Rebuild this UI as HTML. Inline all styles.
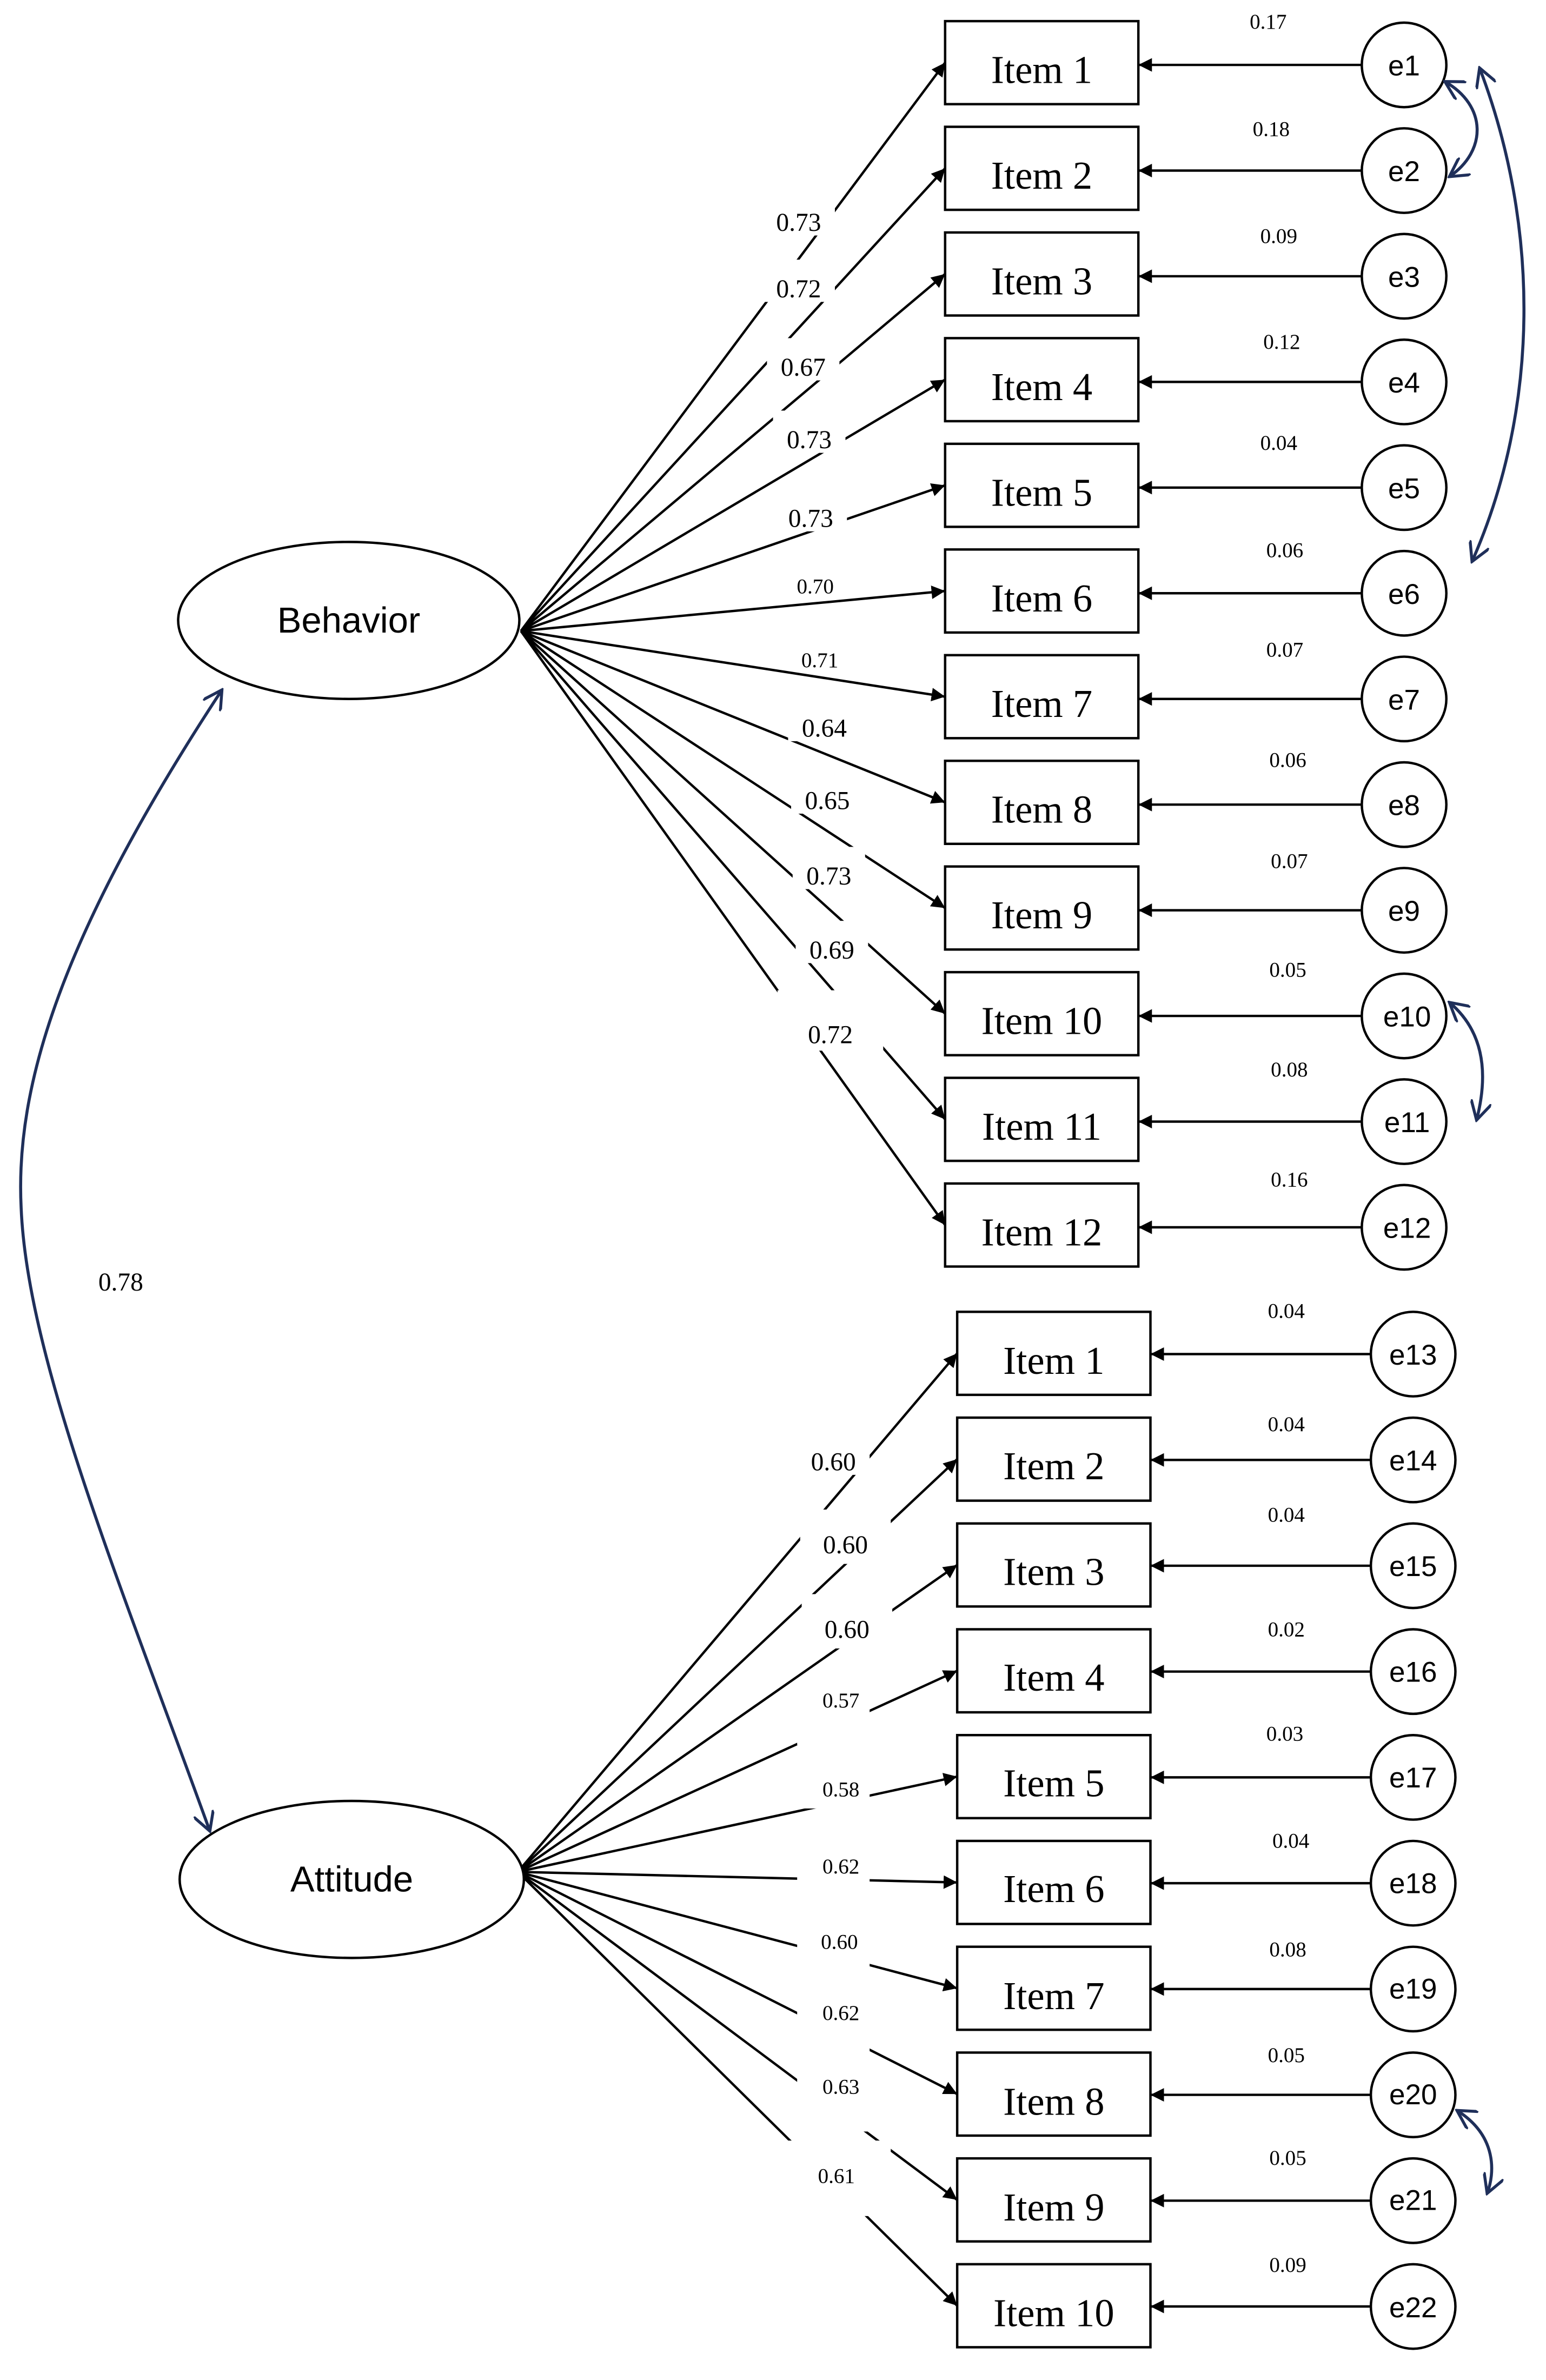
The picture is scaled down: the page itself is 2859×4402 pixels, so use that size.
<!DOCTYPE html>
<html><head><meta charset="utf-8"><style>
html,body{margin:0;padding:0;background:#fff;}
svg{display:block;}
.it{font-family:"Liberation Serif",serif;font-size:26px;}
.e{font-family:"Liberation Sans",sans-serif;font-size:19px;}
.ld{font-family:"Liberation Serif",serif;font-size:17px;}
.sm{font-family:"Liberation Serif",serif;font-size:14px;}
.lv{font-family:"Liberation Sans","DejaVu Sans",sans-serif;font-size:24px;}
</style></head><body>
<svg width="2859" height="4402" viewBox="0 0 1024 1576.6" preserveAspectRatio="none" xmlns="http://www.w3.org/2000/svg">
<defs>
<marker id="a" viewBox="0 0 10 10" refX="10" refY="5" markerWidth="9" markerHeight="9" markerUnits="userSpaceOnUse" orient="auto"><path d="M0,0 L10,5 L0,10 z" fill="#000"/></marker>
<marker id="o" viewBox="0 0 10 10" refX="9" refY="5" markerWidth="14" markerHeight="14" markerUnits="userSpaceOnUse" orient="auto-start-reverse"><path d="M0,0 L9,5 L0,10" fill="none" stroke="#1f2f5a" stroke-width="1.4"/></marker>
</defs>
<rect width="1024" height="1577" fill="#fff"/>
<g stroke="#000" stroke-width="1.6" fill="none">
<!-- behavior loadings -->
<line x1="345" y1="418" x2="626" y2="41.5" marker-end="url(#a)"/>
<line x1="345" y1="418" x2="626" y2="111.5" marker-end="url(#a)"/>
<line x1="345" y1="418" x2="626" y2="181.5" marker-end="url(#a)"/>
<line x1="345" y1="418" x2="626" y2="251.5" marker-end="url(#a)"/>
<line x1="345" y1="418" x2="626" y2="321.5" marker-end="url(#a)"/>
<line x1="345" y1="418" x2="626" y2="391.5" marker-end="url(#a)"/>
<line x1="345" y1="418" x2="626" y2="461.5" marker-end="url(#a)"/>
<line x1="345" y1="418" x2="626" y2="531.5" marker-end="url(#a)"/>
<line x1="345" y1="418" x2="626" y2="601.5" marker-end="url(#a)"/>
<line x1="345" y1="418" x2="626" y2="671.5" marker-end="url(#a)"/>
<line x1="345" y1="418" x2="626" y2="741.5" marker-end="url(#a)"/>
<line x1="345" y1="418" x2="626" y2="811.5" marker-end="url(#a)"/>
<!-- attitude loadings -->
<line x1="343" y1="1240" x2="634" y2="896.5" marker-end="url(#a)"/>
<line x1="343" y1="1240" x2="634" y2="966.6" marker-end="url(#a)"/>
<line x1="343" y1="1240" x2="634" y2="1036.7" marker-end="url(#a)"/>
<line x1="343" y1="1240" x2="634" y2="1106.8" marker-end="url(#a)"/>
<line x1="343" y1="1240" x2="634" y2="1176.9" marker-end="url(#a)"/>
<line x1="343" y1="1240" x2="634" y2="1247" marker-end="url(#a)"/>
<line x1="343" y1="1240" x2="634" y2="1317.1" marker-end="url(#a)"/>
<line x1="343" y1="1240" x2="634" y2="1387.2" marker-end="url(#a)"/>
<line x1="343" y1="1240" x2="634" y2="1457.3" marker-end="url(#a)"/>
<line x1="343" y1="1240" x2="634" y2="1527.4" marker-end="url(#a)"/>
</g>
<!-- label backgrounds + labels -->
<g fill="#fff">
<rect x="505" y="128" width="48" height="28"/><rect x="505" y="172" width="48" height="28"/><rect x="508" y="224" width="48" height="28"/><rect x="512" y="272" width="48" height="28"/><rect x="513" y="324" width="48" height="28"/><rect x="520" y="376" width="40" height="18"/><rect x="523" y="425" width="40" height="18"/><rect x="522" y="463" width="48" height="28"/><rect x="524" y="511" width="48" height="28"/><rect x="525" y="561" width="48" height="28"/><rect x="527" y="610" width="48" height="28"/><rect x="515" y="656" width="70" height="40"/>
<rect x="528" y="949" width="48" height="28"/><rect x="530" y="1000" width="60" height="36"/><rect x="531" y="1056" width="60" height="36"/><rect x="528" y="1112" width="48" height="44"/><rect x="528" y="1170" width="48" height="28"/><rect x="528" y="1222" width="48" height="26"/><rect x="528" y="1272" width="48" height="34"/><rect x="528" y="1320" width="48" height="40"/><rect x="528" y="1368" width="48" height="44"/><rect x="520" y="1418" width="70" height="50"/>
</g>
<g text-anchor="middle">
<text class="ld" x="529" y="153">0.73</text><text class="ld" x="529" y="197">0.72</text><text class="ld" x="532" y="249">0.67</text><text class="ld" x="536" y="297">0.73</text><text class="ld" x="537" y="349">0.73</text><text class="sm" x="540" y="393">0.70</text><text class="sm" x="543" y="442">0.71</text><text class="ld" x="546" y="488">0.64</text><text class="ld" x="548" y="536">0.65</text><text class="ld" x="549" y="586">0.73</text><text class="ld" x="551" y="635">0.69</text><text class="ld" x="550" y="691">0.72</text>
<text class="ld" x="552" y="974">0.60</text><text class="ld" x="560" y="1029">0.60</text><text class="ld" x="561" y="1085">0.60</text><text class="sm" x="557" y="1131">0.57</text><text class="sm" x="557" y="1190">0.58</text><text class="sm" x="557" y="1241">0.62</text><text class="sm" x="556" y="1291">0.60</text><text class="sm" x="557" y="1338">0.62</text><text class="sm" x="557" y="1387">0.63</text><text class="sm" x="554" y="1446">0.61</text>
<text class="ld" x="80" y="855">0.78</text>
</g>
<!-- latent -->
<ellipse cx="231" cy="411" rx="113" ry="52" fill="#fff" stroke="#000" stroke-width="1.6"/>
<ellipse cx="233" cy="1245" rx="114" ry="52" fill="#fff" stroke="#000" stroke-width="1.6"/>
<text class="lv" x="231" y="419" text-anchor="middle">Behavior</text>
<text class="lv" x="233" y="1253" text-anchor="middle">Attitude</text>
<!-- behavior boxes, errors -->
<g id="bg">
</g>
<g stroke="#000" stroke-width="1.6" fill="#fff">
<rect x="626" y="14" width="128" height="55"/><rect x="626" y="84" width="128" height="55"/><rect x="626" y="154" width="128" height="55"/><rect x="626" y="224" width="128" height="55"/><rect x="626" y="294" width="128" height="55"/><rect x="626" y="364" width="128" height="55"/><rect x="626" y="434" width="128" height="55"/><rect x="626" y="504" width="128" height="55"/><rect x="626" y="574" width="128" height="55"/><rect x="626" y="644" width="128" height="55"/><rect x="626" y="714" width="128" height="55"/><rect x="626" y="784" width="128" height="55"/>
<rect x="634" y="869" width="128" height="55"/><rect x="634" y="939.1" width="128" height="55"/><rect x="634" y="1009.2" width="128" height="55"/><rect x="634" y="1079.3" width="128" height="55"/><rect x="634" y="1149.4" width="128" height="55"/><rect x="634" y="1219.5" width="128" height="55"/><rect x="634" y="1289.6" width="128" height="55"/><rect x="634" y="1359.7" width="128" height="55"/><rect x="634" y="1429.8" width="128" height="55"/><rect x="634" y="1499.9" width="128" height="55"/>
<circle cx="930" cy="43" r="28"/><circle cx="930" cy="113" r="28"/><circle cx="930" cy="183" r="28"/><circle cx="930" cy="253" r="28"/><circle cx="930" cy="323" r="28"/><circle cx="930" cy="393" r="28"/><circle cx="930" cy="463" r="28"/><circle cx="930" cy="533" r="28"/><circle cx="930" cy="603" r="28"/><circle cx="930" cy="673" r="28"/><circle cx="930" cy="743" r="28"/><circle cx="930" cy="813" r="28"/>
<circle cx="936" cy="897" r="28"/><circle cx="936" cy="967.1" r="28"/><circle cx="936" cy="1037.2" r="28"/><circle cx="936" cy="1107.3" r="28"/><circle cx="936" cy="1177.4" r="28"/><circle cx="936" cy="1247.5" r="28"/><circle cx="936" cy="1317.6" r="28"/><circle cx="936" cy="1387.7" r="28"/><circle cx="936" cy="1457.8" r="28"/><circle cx="936" cy="1527.9" r="28"/>
</g>
<g stroke="#000" stroke-width="1.6">
<line x1="902" y1="43" x2="754" y2="43" marker-end="url(#a)"/><line x1="902" y1="113" x2="754" y2="113" marker-end="url(#a)"/><line x1="902" y1="183" x2="754" y2="183" marker-end="url(#a)"/><line x1="902" y1="253" x2="754" y2="253" marker-end="url(#a)"/><line x1="902" y1="323" x2="754" y2="323" marker-end="url(#a)"/><line x1="902" y1="393" x2="754" y2="393" marker-end="url(#a)"/><line x1="902" y1="463" x2="754" y2="463" marker-end="url(#a)"/><line x1="902" y1="533" x2="754" y2="533" marker-end="url(#a)"/><line x1="902" y1="603" x2="754" y2="603" marker-end="url(#a)"/><line x1="902" y1="673" x2="754" y2="673" marker-end="url(#a)"/><line x1="902" y1="743" x2="754" y2="743" marker-end="url(#a)"/><line x1="902" y1="813" x2="754" y2="813" marker-end="url(#a)"/>
<line x1="908" y1="897" x2="762" y2="897" marker-end="url(#a)"/><line x1="908" y1="967.1" x2="762" y2="967.1" marker-end="url(#a)"/><line x1="908" y1="1037.2" x2="762" y2="1037.2" marker-end="url(#a)"/><line x1="908" y1="1107.3" x2="762" y2="1107.3" marker-end="url(#a)"/><line x1="908" y1="1177.4" x2="762" y2="1177.4" marker-end="url(#a)"/><line x1="908" y1="1247.5" x2="762" y2="1247.5" marker-end="url(#a)"/><line x1="908" y1="1317.6" x2="762" y2="1317.6" marker-end="url(#a)"/><line x1="908" y1="1387.7" x2="762" y2="1387.7" marker-end="url(#a)"/><line x1="908" y1="1457.8" x2="762" y2="1457.8" marker-end="url(#a)"/><line x1="908" y1="1527.9" x2="762" y2="1527.9" marker-end="url(#a)"/>
</g>
<g class="it" text-anchor="middle">
<text x="690" y="55">Item 1</text><text x="690" y="125">Item 2</text><text x="690" y="195">Item 3</text><text x="690" y="265">Item 4</text><text x="690" y="335">Item 5</text><text x="690" y="405">Item 6</text><text x="690" y="475">Item 7</text><text x="690" y="545">Item 8</text><text x="690" y="615">Item 9</text><text x="690" y="685">Item 10</text><text x="690" y="755">Item 11</text><text x="690" y="825">Item 12</text>
<text x="698" y="910">Item 1</text><text x="698" y="980">Item 2</text><text x="698" y="1050">Item 3</text><text x="698" y="1120">Item 4</text><text x="698" y="1190">Item 5</text><text x="698" y="1260">Item 6</text><text x="698" y="1331">Item 7</text><text x="698" y="1401">Item 8</text><text x="698" y="1471">Item 9</text><text x="698" y="1541">Item 10</text>
</g>
<g class="e" text-anchor="middle">
<text x="930" y="50">e1</text><text x="930" y="120">e2</text><text x="930" y="190">e3</text><text x="930" y="260">e4</text><text x="930" y="330">e5</text><text x="930" y="400">e6</text><text x="930" y="470">e7</text><text x="930" y="540">e8</text><text x="930" y="610">e9</text><text x="932" y="680">e10</text><text x="932" y="750">e11</text><text x="932" y="820">e12</text>
<text x="936" y="904">e13</text><text x="936" y="974">e14</text><text x="936" y="1044">e15</text><text x="936" y="1114">e16</text><text x="936" y="1184">e17</text><text x="936" y="1254">e18</text><text x="936" y="1324">e19</text><text x="936" y="1394">e20</text><text x="936" y="1464">e21</text><text x="936" y="1535">e22</text>
</g>
<g class="sm" text-anchor="middle">
<text x="840" y="19">0.17</text><text x="842" y="90">0.18</text><text x="847" y="161">0.09</text><text x="849" y="231">0.12</text><text x="847" y="298">0.04</text><text x="851" y="369">0.06</text><text x="851" y="435">0.07</text><text x="853" y="508">0.06</text><text x="854" y="575">0.07</text><text x="853" y="647">0.05</text><text x="854" y="713">0.08</text><text x="854" y="786">0.16</text>
<text x="852" y="873">0.04</text><text x="852" y="948">0.04</text><text x="852" y="1008">0.04</text><text x="852" y="1084">0.02</text><text x="851" y="1153">0.03</text><text x="855" y="1224">0.04</text><text x="853" y="1296">0.08</text><text x="852" y="1366">0.05</text><text x="853" y="1434">0.05</text><text x="853" y="1505">0.09</text>
</g>
<!-- covariances -->
<g stroke="#1f2f5a" stroke-width="2" fill="none">
<path d="M147,457 C40,620 10,720 14,800 C18,900 80,1050 139,1213" marker-start="url(#o)" marker-end="url(#o)"/>
<path d="M957,54 C985,70 985,100 960,117" marker-start="url(#o)" marker-end="url(#o)"/>
<path d="M980,45 C1020,150 1020,270 975,372" marker-start="url(#o)" marker-end="url(#o)"/>
<path d="M960,664 C985,685 985,715 978,742" marker-start="url(#o)" marker-end="url(#o)"/>
<path d="M965,1398 C992,1415 990,1440 985,1453" marker-start="url(#o)" marker-end="url(#o)"/>
</g>
</svg>
</body></html>
